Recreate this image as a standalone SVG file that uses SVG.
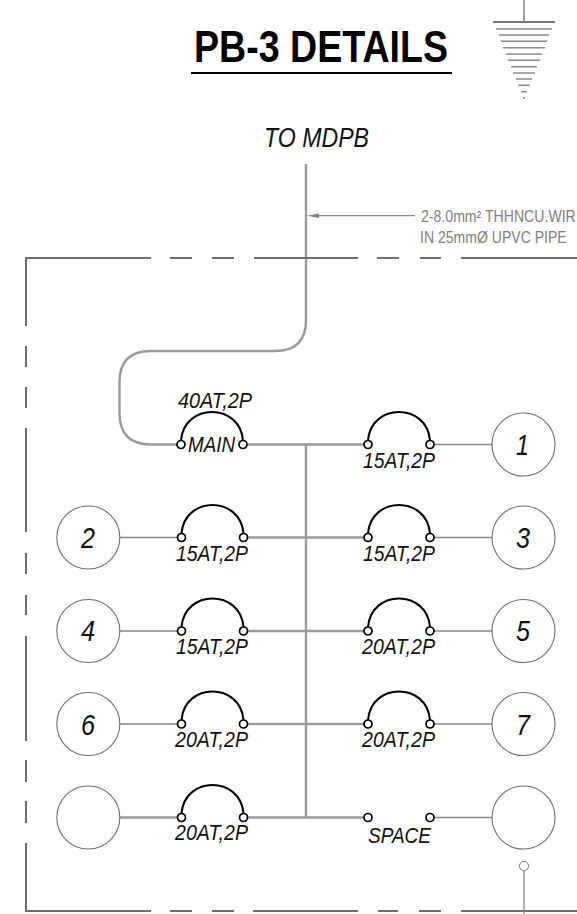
<svg xmlns="http://www.w3.org/2000/svg" width="577" height="914" viewBox="0 0 577 914">
<style>
text{font-family:"Liberation Sans",Arial,sans-serif;fill:#111}
.lbl{font-size:22.500px;font-style:italic}
.num{font-size:30px;font-style:italic}
.wire{fill:none;stroke:#9a9a9a;stroke-width:2.4}
.thin{fill:none;stroke:#888;stroke-width:1.3}
.frame{fill:none;stroke:#6e6e6e;stroke-width:2}
.ckt{fill:#fff;stroke:#6f6f6f;stroke-width:1.1}
.arc{fill:none;stroke:#000;stroke-width:2}
.term{fill:#fff;stroke:#000;stroke-width:1.7}
.gnd{stroke:#8c8c8c;stroke-width:1.6}
</style>
<defs>
<g id="brk"><path class="arc" d="M0 -4C3 -42 59 -42 62 -4"/><circle class="term" cx="0" cy="0" r="4"/><circle class="term" cx="62" cy="0" r="4"/></g>
</defs>
<g id="title">
<text x="194" y="62" font-size="45" font-weight="bold" textLength="254" lengthAdjust="spacingAndGlyphs" style="fill:#000">PB-3 DETAILS</text>
<rect x="191" y="72" width="261" height="2"/>
</g>
<g id="ground">
<path class="gnd" d="M524 0V22"/>
<path stroke="#777" stroke-width="2" d="M493 22H555"/>
<path class="gnd" d="M496 29H552M499 35H549M501 41.300H547M503 47.700H545M506 54H542M508 60.300H540M511 66.700H537M513 73H535M516 79H532M518 85.300H530M521 91.700H527M523 98H525"/>
</g>
<g id="connectors">
<path class="wire" d="M306 164V320Q306 351 275 351H151Q119.500 351 119.500 382V413Q119.500 444.500 151 444.500H177M248 444.500H364M306 444.500V817.500M248 537.500H364M248 631H364M248 724H364M248 817.500H364M119 817.500H178"/>
<path class="thin" d="M434 444.500H492M119 537.500H178M434 537.500H492M119 631H178M434 631H492M119 724H178M434 724H492M434 817.500H492"/>
<path class="thin" d="M415 215.700H318"/>
<path d="M307 215.700L319 213.500V218Z" fill="#808080"/>
</g>
<g id="frame">
<path class="frame" d="M151 258H26V326M170 258H192M212 258H234M254 258H358M377 258H399M420 258H441M461 258H577M26 346V367M26 387V408M26 428V532M26 553V574M26 595V615M26 636V741M26 760V782M26 801V823M26 843V911H151M170 911H192M212 911H234M253 911H358M378 911H398M419 911H441M461 911H577"/>
</g>
<g id="label-feeder">
<text x="264" y="147" font-size="28" font-style="italic" textLength="105" lengthAdjust="spacingAndGlyphs">TO MDPB</text>
<text transform="translate(421 222) scale(.9 1)" font-size="16" style="fill:#808080" textLength="172" lengthAdjust="spacingAndGlyphs">2-8.0mm² THHNCU.WIR</text>
<text transform="translate(420 243) scale(.9 1)" font-size="16" style="fill:#808080" textLength="163" lengthAdjust="spacingAndGlyphs">IN 25mmØ UPVC PIPE</text>
</g>
<g id="main"><use href="#brk" x="181" y="444.500"/><text class="lbl" x="178" y="408" textLength="74" lengthAdjust="spacingAndGlyphs">40AT,2P</text><text class="lbl" x="188" y="452" textLength="47" lengthAdjust="spacingAndGlyphs">MAIN</text></g>
<g id="b1"><use href="#brk" x="368" y="444.500"/><text class="lbl" x="363" y="467.500" textLength="72" lengthAdjust="spacingAndGlyphs">15AT,2P</text></g>
<g id="b2"><use href="#brk" x="181.500" y="537.500"/><text class="lbl" x="176" y="561" textLength="72" lengthAdjust="spacingAndGlyphs">15AT,2P</text></g>
<g id="b3"><use href="#brk" x="368" y="537.500"/><text class="lbl" x="363" y="561" textLength="72" lengthAdjust="spacingAndGlyphs">15AT,2P</text></g>
<g id="b4"><use href="#brk" x="181.500" y="631"/><text class="lbl" x="176" y="654" textLength="72" lengthAdjust="spacingAndGlyphs">15AT,2P</text></g>
<g id="b5"><use href="#brk" x="368" y="631"/><text class="lbl" x="362" y="654" textLength="73" lengthAdjust="spacingAndGlyphs">20AT,2P</text></g>
<g id="b6"><use href="#brk" x="181.500" y="724"/><text class="lbl" x="175" y="747" textLength="73" lengthAdjust="spacingAndGlyphs">20AT,2P</text></g>
<g id="b7"><use href="#brk" x="368" y="724"/><text class="lbl" x="362" y="747" textLength="73" lengthAdjust="spacingAndGlyphs">20AT,2P</text></g>
<g id="b8"><use href="#brk" x="181.500" y="817.500"/><text class="lbl" x="175" y="840" textLength="73" lengthAdjust="spacingAndGlyphs">20AT,2P</text></g>
<g id="space"><circle class="term" cx="368" cy="817.500" r="4"/><circle class="term" cx="430" cy="817.500" r="4"/><text class="lbl" x="368" y="843" textLength="63" lengthAdjust="spacingAndGlyphs">SPACE</text></g>
<g id="c1"><circle class="ckt" cx="523.500" cy="444.500" r="31.500"/><text class="num" x="516" y="455" textLength="13" lengthAdjust="spacingAndGlyphs">1</text></g>
<g id="c2"><circle class="ckt" cx="88.300" cy="537.500" r="31.500"/><text class="num" x="81" y="548" textLength="14" lengthAdjust="spacingAndGlyphs">2</text></g>
<g id="c3"><circle class="ckt" cx="523.500" cy="537.500" r="31.500"/><text class="num" x="516" y="548" textLength="14" lengthAdjust="spacingAndGlyphs">3</text></g>
<g id="c4"><circle class="ckt" cx="88.300" cy="631" r="31.500"/><text class="num" x="81" y="641" textLength="14" lengthAdjust="spacingAndGlyphs">4</text></g>
<g id="c5"><circle class="ckt" cx="523.500" cy="631" r="31.500"/><text class="num" x="516" y="641" textLength="14" lengthAdjust="spacingAndGlyphs">5</text></g>
<g id="c6"><circle class="ckt" cx="88.300" cy="724" r="31.500"/><text class="num" x="81" y="735" textLength="14" lengthAdjust="spacingAndGlyphs">6</text></g>
<g id="c7"><circle class="ckt" cx="523.500" cy="724" r="31.500"/><text class="num" x="516" y="735" textLength="14" lengthAdjust="spacingAndGlyphs">7</text></g>
<g id="c8"><circle class="ckt" cx="88.300" cy="817.500" r="31.500"/></g>
<g id="c9"><circle class="ckt" cx="523.500" cy="817.500" r="31.500"/></g>
<g id="tag"><circle cx="524" cy="866" r="4.500" fill="#fff" stroke="#8a8a8a" stroke-width="1.200"/><path class="thin" d="M524 870.500V914"/></g>
</svg>
